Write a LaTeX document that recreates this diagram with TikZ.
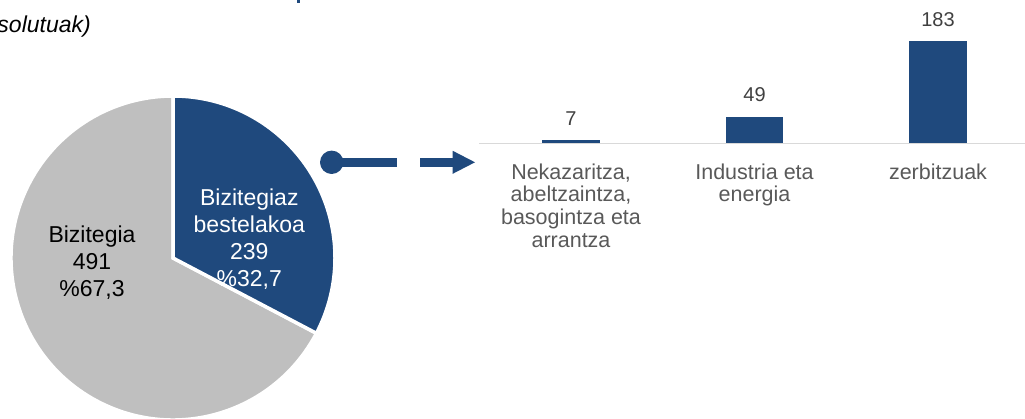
\documentclass[tikz,border=0pt]{standalone}
\usepackage{fontspec}
\setmainfont{Liberation Sans}
\usetikzlibrary{arrows.meta}
\definecolor{pieblue}{HTML}{1F497D}
\definecolor{piegray}{HTML}{BFBFBF}
\definecolor{axisgray}{HTML}{D9D9D9}
\definecolor{valtext}{HTML}{404040}
\definecolor{cattext}{HTML}{595959}
\tikzset{
  slice/.style={draw=white, line width=3.5},
  bar/.style={fill=pieblue, draw=none},
  vallabel/.style={anchor=base, inner sep=0pt, text=valtext, font=\fontsize{20}{22}\selectfont},
  catlabel/.style={anchor=north, inner sep=0pt, align=center, text=cattext, font=\fontsize{21.5}{22.6}\selectfont},
  pielabel/.style={anchor=north, inner sep=0pt, align=center, font=\fontsize{23}{27}\selectfont},
}
\begin{document}
\begin{tikzpicture}[x=1pt,y=-1pt]
\useasboundingbox (0,0) rectangle (1025,419);
% pie
\coordinate (pc) at (173,258);
\fill[piegray] (pc) -- ++(27.7:162) arc[start angle=27.7, end angle=270, radius=162] -- cycle;
\draw[slice, fill=piegray] (pc) -- ++(27.7:162) arc[start angle=27.7, end angle=270, radius=162] -- cycle;
\draw[slice, fill=pieblue] (pc) -- ++(-90:162) arc[start angle=-90, end angle=27.7, radius=162] -- cycle;
\node[pielabel] (lbizi) at (92,226) {Bizitegia\\491\\\%67,3};
\node[pielabel, text=white] (lbeste) at (249.3,188.4) {Bizitegiaz\\bestelakoa\\239\\\%32,7};
% title fragments
\node[anchor=base east, inner sep=0pt, font=\fontsize{23}{27}\selectfont\itshape] (title) at (91,33) {solutuak)};
\fill[pieblue] (297,0) rectangle (299.5,3);
% connector
\node[circle, fill=pieblue, minimum size=23.4pt, inner sep=0pt] (dot) at (331.7,162.3) {};
\coordinate (tip) at (475,162.3);
\draw[pieblue, line width=9, dash pattern=on 65pt off 23.3pt on 300pt off 0pt,
  -{Triangle[length=22.3pt, width=23pt, line width=0pt]}] (dot.center) -- (tip);
% bar chart
\coordinate (axL) at (479,143.5);
\coordinate (axR) at (1025,143.5);
\draw[axisgray, line width=1.6] (axL) -- (axR);
\fill[bar] (542.3,142.8) rectangle (600,140.3);
\fill[bar] (726,142.8) rectangle (783,116.7);
\fill[bar] (909.3,142.8) rectangle (967,41);
\node[vallabel] (v1) at (571,125.3) {7};
\node[vallabel] (v2) at (754.5,101.7) {49};
\node[vallabel] (v3) at (938,26.5) {183};
\node[catlabel] (c1) at (571,163.6) {Nekazaritza,\\abeltzaintza,\\basogintza eta\\arrantza};
\node[catlabel] (c2) at (754.5,163.6) {Industria eta\\energia};
\node[catlabel] (c3) at (938,163.6) {zerbitzuak};
\end{tikzpicture}
\end{document}
